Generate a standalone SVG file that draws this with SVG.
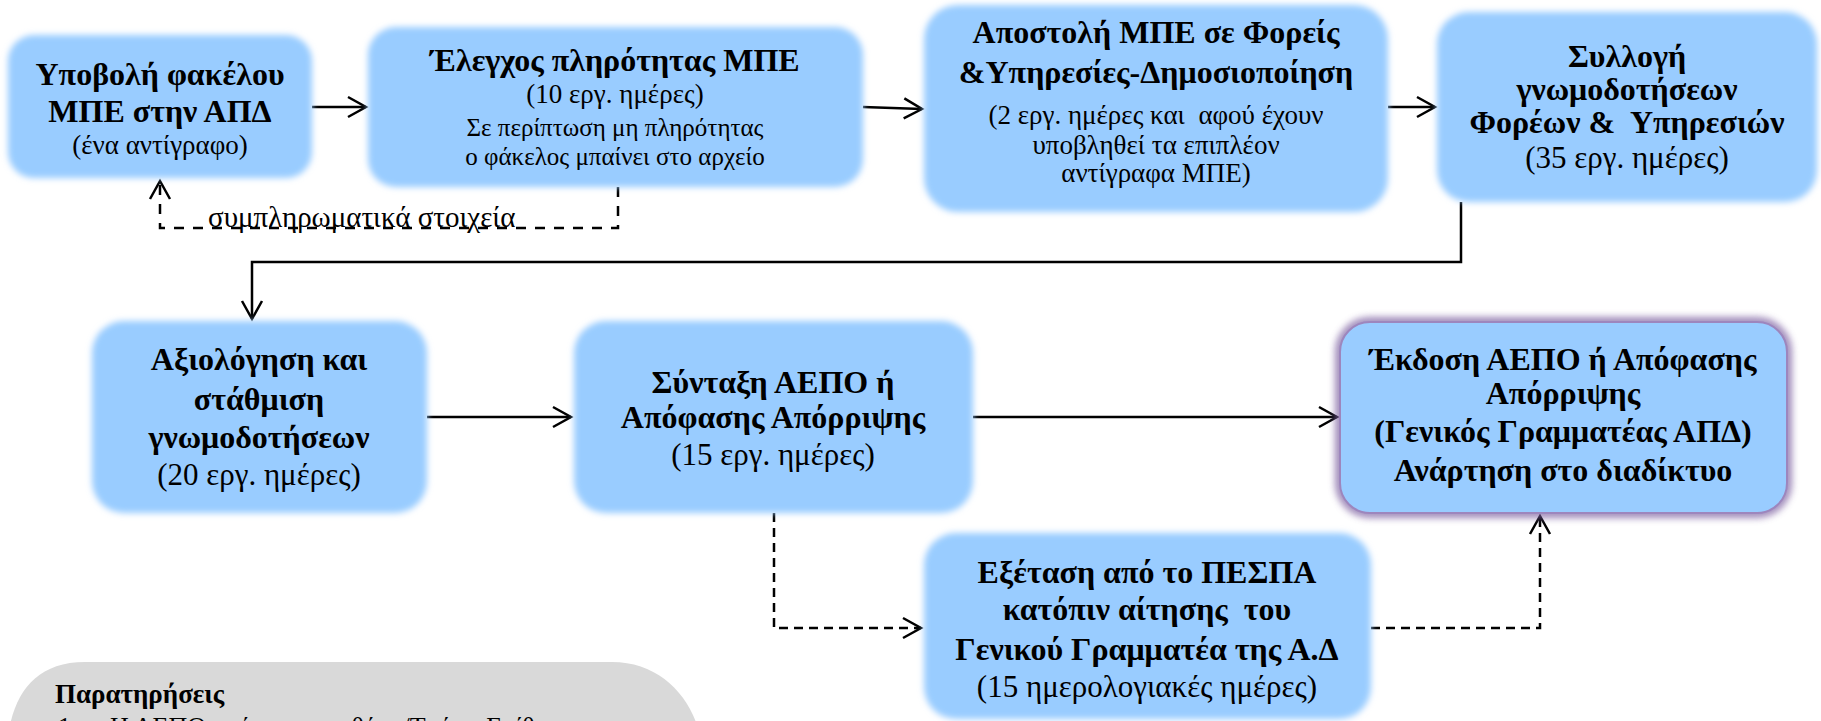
<svg xmlns="http://www.w3.org/2000/svg" width="1821" height="721" viewBox="0 0 1821 721" font-family="'Liberation Serif', 'DejaVu Serif', serif">
<style>
.box{fill:#99ccff;filter:url(#soft)}
.t{fill:#000;text-anchor:middle}
.b{font-weight:bold;font-size:32px}
.r{font-size:25px}
.r1{font-size:27px}
.r2{font-size:31px}
.ln{fill:none;stroke:#000;stroke-width:2.5;marker-end:url(#arr)}
.dl{fill:none;stroke:#000;stroke-width:2.5;stroke-dasharray:9 6}
</style>
<defs>
<filter id="soft" x="-5%" y="-5%" width="110%" height="110%"><feGaussianBlur stdDeviation="3.2"/></filter>
<filter id="glow" x="-10%" y="-10%" width="120%" height="120%"><feGaussianBlur stdDeviation="3.5"/></filter>
<marker id="arr" markerUnits="userSpaceOnUse" markerWidth="26" markerHeight="26" refX="21" refY="12" orient="auto">
<path d="M3,2 L21,12 L3,22" fill="none" stroke="#000" stroke-width="2.5"/>
</marker>
</defs>
<rect width="1821" height="721" fill="#fff"/>

<g id="connectors">
<path class="ln" d="M312,107 L366,107"/>
<path class="ln" d="M863,107 L922,109"/>
<path class="ln" d="M1388,107 L1435,107"/>
<path class="ln" d="M1461,202 L1461,262 L252,262 L252,319"/>
<path class="ln" d="M427,417 L571,417"/>
<path class="ln" d="M973,417 L1337,417"/>
<path class="dl" d="M618,187 L618,228 L160,228 L160,181" marker-end="url(#arr)" style="stroke-dasharray:10 9"/>
<path class="dl" d="M774,513 L774,628 L921,628" marker-end="url(#arr)"/>
<path class="dl" d="M1371,628 L1540,628 L1540,516" marker-end="url(#arr)"/>
<text class="t" x="208" y="227" font-size="29" style="text-anchor:start">συμπληρωματικά στοιχεία</text>
</g>

<g id="n1">
<rect class="box" x="8" y="35" width="304" height="143" rx="26"/>
<text class="t b" x="160" y="85" font-size="31">Υποβολή φακέλου</text>
<text class="t b" x="160" y="122" font-size="31">ΜΠΕ στην ΑΠΔ</text>
<text class="t r1" x="160" y="154">(ένα αντίγραφο)</text>
</g>

<g id="n2">
<rect class="box" x="368" y="27" width="495" height="160" rx="28"/>
<text class="t b" x="615" y="71">Έλεγχος πληρότητας ΜΠΕ</text>
<text class="t r1" x="615" y="103">(10 εργ. ημέρες)</text>
<text class="t r" x="615" y="136">Σε περίπτωση μη πληρότητας</text>
<text class="t r" x="615" y="165">ο φάκελος μπαίνει στο αρχείο</text>
</g>

<g id="n3">
<rect class="box" x="924" y="5" width="464" height="207" rx="34"/>
<text class="t b" x="1156" y="43">Αποστολή ΜΠΕ σε Φορείς</text>
<text class="t b" x="1156" y="83">&amp;Υπηρεσίες-Δημοσιοποίηση</text>
<text class="t r1" x="1156" y="124" xml:space="preserve">(2 εργ. ημέρες και  αφού έχουν</text>
<text class="t r1" x="1156" y="154">υποβληθεί τα επιπλέον</text>
<text class="t r1" x="1156" y="182">αντίγραφα ΜΠΕ)</text>
</g>

<g id="n4">
<rect class="box" x="1437" y="12" width="380" height="190" rx="32"/>
<text class="t b" x="1627" y="67" font-size="31">Συλλογή</text>
<text class="t b" x="1627" y="100" font-size="31">γνωμοδοτήσεων</text>
<text class="t b" x="1627" y="133" font-size="31" xml:space="preserve">Φορέων &amp;  Υπηρεσιών</text>
<text class="t r2" x="1627" y="168">(35 εργ. ημέρες)</text>
</g>

<g id="n5">
<rect class="box" x="92" y="321" width="335" height="192" rx="32"/>
<text class="t b" x="259" y="370">Αξιολόγηση και</text>
<text class="t b" x="259" y="410">στάθμιση</text>
<text class="t b" x="259" y="448">γνωμοδοτήσεων</text>
<text class="t r2" x="259" y="485">(20 εργ. ημέρες)</text>
</g>

<g id="n6">
<rect class="box" x="574" y="321" width="399" height="192" rx="32"/>
<text class="t b" x="773" y="393">Σύνταξη ΑΕΠΟ ή</text>
<text class="t b" x="773" y="428">Απόφασης Απόρριψης</text>
<text class="t r2" x="773" y="465">(15 εργ. ημέρες)</text>
</g>

<g id="n7">
<rect x="1340" y="322" width="447" height="191" rx="30" fill="none" stroke="#7e62a2" stroke-width="10" opacity="0.75" filter="url(#glow)"/>
<rect x="1340" y="322" width="447" height="191" rx="30" fill="#99ccff" stroke="#9d86bd" stroke-width="2"/>
<text class="t b" x="1563" y="370" font-size="33">Έκδοση ΑΕΠΟ ή Απόφασης</text>
<text class="t b" x="1563" y="404" font-size="33">Απόρριψης</text>
<text class="t b" x="1563" y="442" font-size="33">(Γενικός Γραμματέας ΑΠΔ)</text>
<text class="t b" x="1563" y="481" font-size="33">Ανάρτηση στο διαδίκτυο</text>
</g>

<g id="n8">
<rect class="box" x="924" y="533" width="447" height="186" rx="32"/>
<text class="t b" x="1147" y="583">Εξέταση από το ΠΕΣΠΑ</text>
<text class="t b" x="1147" y="620" xml:space="preserve">κατόπιν αίτησης  του</text>
<text class="t b" x="1147" y="660">Γενικού Γραμματέα της Α.Δ</text>
<text class="t r2" x="1147" y="697">(15 ημερολογιακές ημέρες)</text>
</g>

<g id="notes">
<path d="M10,725 C18,688 40,662 85,662 L612,662 C655,662 685,690 697,725 Z" fill="#d9d9d9"/>
<text class="t" x="55" y="703" font-size="27" font-weight="bold" style="text-anchor:start">Παρατηρήσεις</text>
<text class="t" x="58" y="735" font-size="26" style="text-anchor:start" xml:space="preserve">1.     Η ΑΕΠΟ υπόκειται σε θέση/Τμήμα Επίθεσης</text>
</g>
</svg>
